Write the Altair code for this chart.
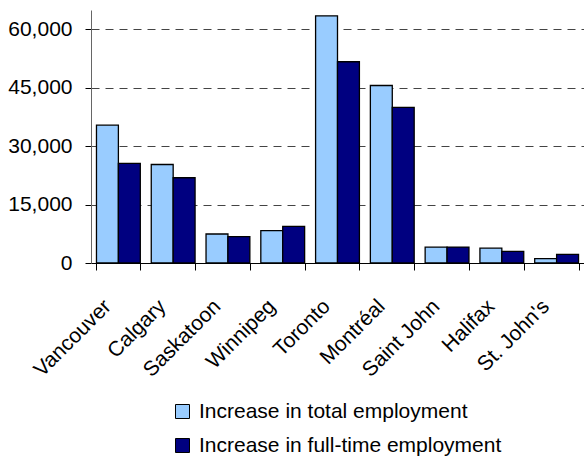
import altair as alt
import pandas as pd

cities = ["Vancouver", "Calgary", "Saskatoon", "Winnipeg", "Toronto",
          "Montréal", "Saint John", "Halifax", "St. John's"]
total_emp = [35400, 25300, 7450, 8300, 63500, 45600, 4100, 3800, 1100]
fulltime_emp = [25600, 21900, 6800, 9400, 51700, 40000, 4100, 3000, 2200]
series = ["Increase in total employment", "Increase in full-time employment"]
colors = ["#99CCFF", "#000080"]
y_ticks = [0, 15000, 30000, 45000, 60000]

rows = []
for c, t, f in zip(cities, total_emp, fulltime_emp):
    rows.append({"city": c, "series": series[0], "value": t})
    rows.append({"city": c, "series": series[1], "value": f})
df = pd.DataFrame(rows)

FONT = "Liberation Sans"

bars = alt.Chart(df).mark_bar(stroke="black", strokeWidth=1.3).encode(
    x=alt.X("city:N", sort=cities,
            scale=alt.Scale(paddingInner=0.2, paddingOuter=0.1),
            axis=alt.Axis(title=None, labelAngle=-45, labelAlign="right",
                          labelBaseline="middle", labelFontSize=21,
                          labelFont=FONT, labelColor="black", labelPadding=33,
                          labelOffset=-11,
                          tickBand="extent", tickSize=7, tickColor="black",
                          domainColor="black", labelOverlap=False)),
    xOffset=alt.XOffset("series:N", sort=series,
                        scale=alt.Scale(paddingInner=0, paddingOuter=0)),
    y=alt.Y("value:Q", scale=alt.Scale(domain=[0, 65000], nice=False),
            axis=alt.Axis(title=None, values=y_ticks, format=",d",
                          labelFontSize=21, labelFont=FONT, labelColor="black",
                          labelPadding=13, tickSize=6, tickColor="black",
                          domainColor="#666666", grid=True,
                          gridColor="#444444", gridDash=[8, 6], gridWidth=1)),
    color=alt.Color("series:N", sort=series,
                    scale=alt.Scale(domain=series, range=colors),
                    legend=alt.Legend(title=None, orient="none", legendX=81,
                                      legendY=391, symbolType="square",
                                      symbolSize=196, symbolStrokeColor="black",
                                      symbolStrokeWidth=1, labelFontSize=21,
                                      labelFont=FONT, labelColor="black",
                                      labelOffset=6, rowPadding=12,
                                      labelLimit=400)),
)

chart = bars.properties(
    width=493, height=253,
    autosize=alt.AutoSizeParams(type="none"),
    padding={"left": 91, "top": 10, "right": 0, "bottom": 194},
).configure_view(stroke=None).configure_axis(gridOpacity=1)

chart.save("out.html", embed_options={"renderer": "svg", "actions": False})
